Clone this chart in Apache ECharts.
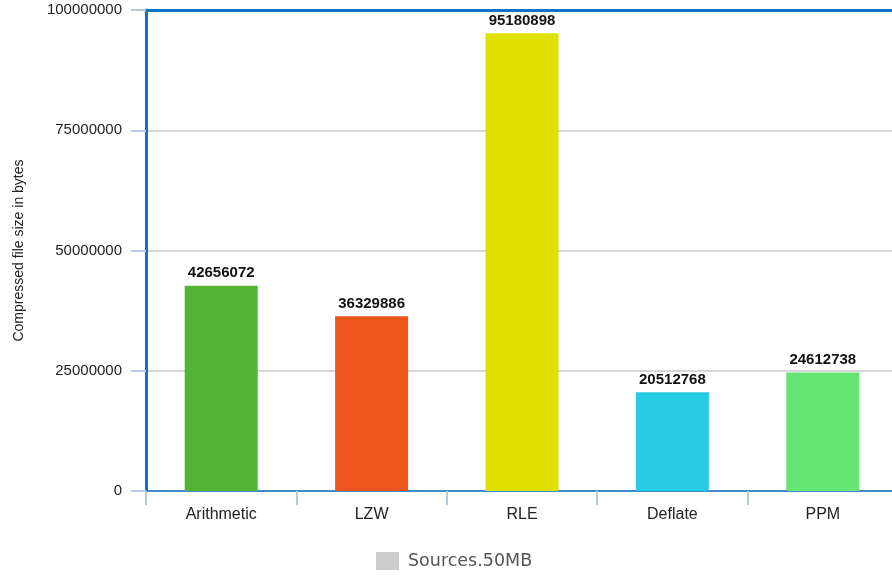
<!DOCTYPE html>
<html>
<head>
<meta charset="utf-8">
<script src="https://cdn.jsdelivr.net/npm/echarts@6/dist/echarts.min.js"></script>
<style>
  html, body { margin: 0; padding: 0; background: #fff; }
  #chart { width: 892px; height: 575px; }
</style>
</head>
<body>
<div id="chart"></div>
<script>
var categories = ['Arithmetic', 'LZW', 'RLE', 'Deflate', 'PPM'];
var sizes = [42656072, 36329886, 95180898, 20512768, 24612738];
var barColors = ['#52b435', '#ec561d', '#dfe000', '#27cce4', '#66e474'];
var yTicks = { min: 0, max: 100000000, interval: 25000000 };

var myChart = echarts.init(document.getElementById('chart'));
var option = {
    animation: false,
    grid: { left: 146, top: 10, width: 752, bottom: 84, outerBoundsMode: 'none' },
    legend: {
        top: 547,
        left: 371,
        icon: 'rect',
        itemWidth: 23,
        itemHeight: 18,
        itemGap: 8,
        data: [{ name: 'Sources.50MB', itemStyle: { color: '#cccccc' } }],
        textStyle: { fontFamily: 'DejaVu Sans', fontSize: 17.5, color: '#555', padding: [0, 0, 0, 4] }
    },
    xAxis: [
        {
            type: 'category',
            data: categories,
            axisLine: { lineStyle: { color: '#1272c5', width: 1.5 } },
            axisTick: { show: true, interval: 0, length: 14, lineStyle: { color: '#b8c9dc', width: 2 } },
            axisLabel: { fontFamily: 'Liberation Sans', fontSize: 16, color: '#222', margin: 16 }
        },
        {
            type: 'category',
            data: categories,
            position: 'top',
            axisLine: { lineStyle: { color: '#1272c5', width: 3 } },
            axisTick: { show: false },
            axisLabel: { show: false }
        }
    ],
    yAxis: {
        type: 'value',
        min: yTicks.min,
        max: yTicks.max,
        interval: yTicks.interval,
        name: 'Compressed file size in bytes',
        nameLocation: 'middle',
        nameGap: 120,
        nameTextStyle: { fontFamily: 'Liberation Sans', fontSize: 14, color: '#222' },
        axisLine: { show: true, lineStyle: { color: '#1272c5', width: 3 } },
        axisTick: { show: true, length: 15, lineStyle: { color: '#b8c9dc', width: 2 } },
        axisLabel: {
            fontFamily: 'Liberation Sans', fontSize: 15, color: '#222', margin: 24,
            formatter: function (v) { return String(v); }
        },
        splitLine: { lineStyle: { color: '#c8c8c8', width: 1.5 } }
    },
    series: [
        {
            name: 'Sources.50MB',
            type: 'bar',
            data: sizes,
            barWidth: 73,
            itemStyle: {
                color: function (p) { return barColors[p.dataIndex]; }
            },
            label: {
                show: true,
                position: 'top',
                distance: 5,
                fontFamily: 'Liberation Sans',
                fontSize: 15,
                fontWeight: 'bold',
                color: '#111'
            }
        }
    ]
};
myChart.setOption(option);
window.addEventListener('resize', function () {
    myChart.resize();
});
</script>
</body>
</html>
